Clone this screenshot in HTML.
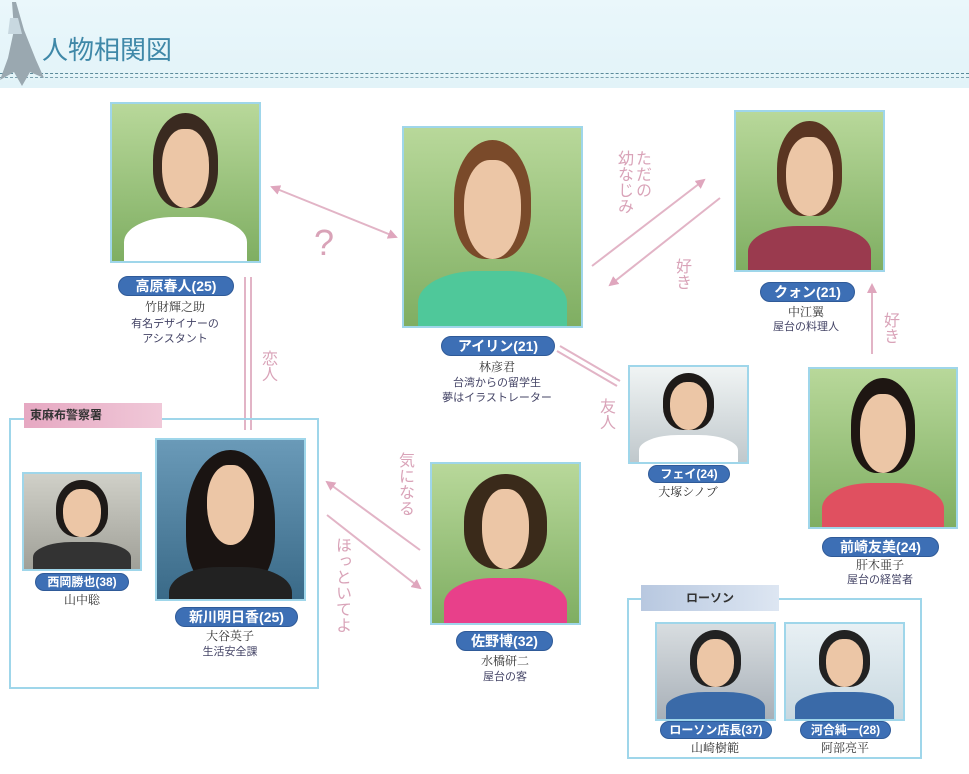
<!DOCTYPE html>
<html><head><meta charset="utf-8"><style>
body{margin:0;width:969px;height:774px;background:#fff;position:relative;overflow:hidden;font-family:"Liberation Sans","Noto Sans CJK JP",sans-serif}
.a{position:absolute}
.ph{position:absolute;overflow:hidden;border:2px solid #9fd6ea;box-sizing:border-box;background:linear-gradient(180deg,#b8d89a,#7fae62)}
.ph .hair{position:absolute;left:28%;width:44%;top:6%;height:60%;border-radius:50% 50% 40% 40%;background:#3a2a20}
.ph .face{position:absolute;left:34%;width:32%;top:16%;height:50%;border-radius:45% 45% 50% 50%;background:#ecc6a6}
.ph .body{position:absolute;left:8%;width:84%;top:72%;height:40%;border-radius:40% 40% 0 0;background:#fff}
.pill{position:absolute;background:#3d6fb5;color:#fff;border-radius:10px;text-align:center;font-weight:bold;font-size:14px;line-height:18px;border:1px solid #2f5a98}
.nm{position:absolute;text-align:center;font-family:"Liberation Serif","Noto Serif CJK SC",serif;font-size:12px;color:#333}
.ds{position:absolute;text-align:center;font-size:11px;color:#446;line-height:15px}
.vt{position:absolute;writing-mode:vertical-rl;color:#d9a3b8;font-size:16px;line-height:18px}
</style></head><body>
<div class="a" style="left:0;top:0;width:969px;height:88px;background:linear-gradient(180deg,#eaf7fb,#e2f3f8)"></div>
<div class="a" style="left:0;top:73px;width:969px;border-top:1px dashed #5a8a9a"></div>
<div class="a" style="left:0;top:77px;width:969px;border-top:1px dashed #7aa0ae"></div>
<svg class="a" style="left:0;top:0" width="45" height="90"><polygon points="12,2 16,2 24,30 36,60 44,78 30,72 22,86 14,72 0,80 8,58 14,30" fill="#9aa8b0"/><polygon points="10,18 18,18 22,34 8,34" fill="#c8d8e0"/></svg>
<div class="a" style="left:42px;top:30px;font-size:26px;color:#3f88a8">人物相関図</div>

<svg class="a" style="left:0;top:0" width="969" height="774">
<defs><marker id="ar" markerWidth="10" markerHeight="10" refX="8" refY="5" orient="auto" markerUnits="userSpaceOnUse"><path d="M0,0 L10,5 L0,10 z" fill="#dfa6bd"/></marker>
<marker id="as" markerWidth="10" markerHeight="10" refX="2" refY="5" orient="auto" markerUnits="userSpaceOnUse"><path d="M10,0 L0,5 L10,10 z" fill="#dfa6bd"/></marker></defs>
<g stroke="#e2b4c6" stroke-width="2" fill="none">
<line x1="272" y1="187" x2="396" y2="237" marker-start="url(#as)" marker-end="url(#ar)"/>
<line x1="245" y1="277" x2="245" y2="430"/><line x1="251" y1="277" x2="251" y2="430"/>
<line x1="592" y1="266" x2="704" y2="180" marker-end="url(#ar)"/>
<line x1="720" y1="198" x2="610" y2="285" marker-end="url(#ar)"/>
<line x1="872" y1="354" x2="872" y2="285" marker-end="url(#ar)"/>
<line x1="560" y1="346" x2="620" y2="381"/><line x1="557" y1="351" x2="617" y2="386"/>
<line x1="420" y1="550" x2="327" y2="482" marker-end="url(#ar)"/>
<line x1="327" y1="515" x2="420" y2="588" marker-end="url(#ar)"/>
</g>
<text x="314" y="255" font-size="36" fill="#d9a3b8" font-family="Liberation Sans">?</text>
</svg>
<div class="vt" style="left:258px;top:350px">恋人</div>
<div class="vt" style="left:614px;top:150px">ただの<br>幼なじみ</div>
<div class="vt" style="left:672px;top:258px">好き</div>
<div class="vt" style="left:880px;top:312px">好き</div>
<div class="vt" style="left:596px;top:398px">友人</div>
<div class="vt" style="left:395px;top:452px">気になる</div>
<div class="vt" style="left:332px;top:537px">ほっといてよ</div>

<!-- Takahara -->
<div class="ph" style="left:110px;top:102px;width:151px;height:161px"><div class="hair"></div><div class="face"></div><div class="body"></div></div>
<div class="pill" style="left:118px;top:276px;width:114px">高原春人(25)</div>
<div class="nm" style="left:100px;top:298px;width:150px">竹財輝之助</div>
<div class="ds" style="left:100px;top:317px;width:150px">有名デザイナーの<br>アシスタント</div>
<!-- Airin -->
<div class="ph" style="left:402px;top:126px;width:181px;height:202px"><div class="hair" style="background:#7a4a2a"></div><div class="face"></div><div class="body" style="background:#4fc89a"></div></div>
<div class="pill" style="left:441px;top:336px;width:112px">アイリン(21)</div>
<div class="nm" style="left:422px;top:358px;width:150px">林彦君</div>
<div class="ds" style="left:412px;top:376px;width:170px">台湾からの留学生<br>夢はイラストレーター</div>
<!-- Kwon -->
<div class="ph" style="left:734px;top:110px;width:151px;height:162px"><div class="hair" style="background:#5a3522"></div><div class="face"></div><div class="body" style="background:#9a3a4e"></div></div>
<div class="pill" style="left:760px;top:282px;width:93px">クォン(21)</div>
<div class="nm" style="left:731px;top:303px;width:150px">中江翼</div>
<div class="ds" style="left:731px;top:320px;width:150px">屋台の料理人</div>
<!-- Fei -->
<div class="ph" style="left:628px;top:365px;width:121px;height:99px;background:linear-gradient(180deg,#f0f4f4,#c0c8cc)"><div class="hair" style="background:#1e1a18"></div><div class="face"></div><div class="body"></div></div>
<div class="pill" style="left:648px;top:465px;width:80px;font-size:12px;line-height:16px">フェイ(24)</div>
<div class="nm" style="left:613px;top:483px;width:150px">大塚シノブ</div>
<!-- Maesaki -->
<div class="ph" style="left:808px;top:367px;width:150px;height:162px"><div class="hair" style="background:#1e1612"></div><div class="face"></div><div class="body" style="background:#e05060"></div></div>
<div class="pill" style="left:822px;top:537px;width:115px">前崎友美(24)</div>
<div class="nm" style="left:805px;top:556px;width:150px">肝木亜子</div>
<div class="ds" style="left:805px;top:573px;width:150px">屋台の経営者</div>
<!-- Sano -->
<div class="ph" style="left:430px;top:462px;width:151px;height:163px"><div class="hair" style="background:#3a2a1a;left:22%;width:56%"></div><div class="face"></div><div class="body" style="background:#e8408a"></div></div>
<div class="pill" style="left:456px;top:631px;width:95px">佐野博(32)</div>
<div class="nm" style="left:430px;top:652px;width:150px">水橋研二</div>
<div class="ds" style="left:430px;top:670px;width:150px">屋台の客</div>
<!-- Police -->
<div class="a" style="left:9px;top:418px;width:310px;height:271px;border:2px solid #9fd6ea;box-sizing:border-box"></div>
<div class="a" style="left:24px;top:403px;width:138px;height:25px;background:linear-gradient(90deg,#e6a8c2,#f0c8d8);font-size:12px;font-weight:bold;color:#333;line-height:25px;padding-left:6px;box-sizing:border-box">東麻布警察署</div>
<div class="ph" style="left:22px;top:472px;width:120px;height:99px;background:linear-gradient(180deg,#d0d0c8,#a0a098)"><div class="hair" style="background:#1e1a18"></div><div class="face"></div><div class="body" style="background:#333"></div></div>
<div class="pill" style="left:35px;top:573px;width:92px;font-size:12px;line-height:16px">西岡勝也(38)</div>
<div class="nm" style="left:7px;top:591px;width:150px">山中聡</div>
<div class="ph" style="left:155px;top:438px;width:151px;height:163px;background:linear-gradient(180deg,#6a9ab8,#3a6a88)"><div class="hair" style="background:#1a1412;left:20%;width:60%;height:90%"></div><div class="face"></div><div class="body" style="background:#222;top:80%"></div></div>
<div class="pill" style="left:175px;top:607px;width:121px">新川明日香(25)</div>
<div class="nm" style="left:155px;top:627px;width:150px">大谷英子</div>
<div class="ds" style="left:155px;top:645px;width:150px">生活安全課</div>
<!-- Lawson -->
<div class="a" style="left:627px;top:598px;width:295px;height:161px;border:2px solid #9fd6ea;box-sizing:border-box"></div>
<div class="a" style="left:641px;top:585px;width:138px;height:26px;background:linear-gradient(90deg,#b8c8e0,#dde6f2);font-size:12px;font-weight:bold;color:#333;line-height:26px;text-align:center">ローソン</div>
<div class="ph" style="left:655px;top:622px;width:121px;height:99px;background:linear-gradient(180deg,#d8dde0,#a8b0b8)"><div class="hair" style="background:#222"></div><div class="face"></div><div class="body" style="background:#3a6aa8"></div></div>
<div class="ph" style="left:784px;top:622px;width:121px;height:99px;background:linear-gradient(180deg,#e8f0f4,#c8d8e0)"><div class="hair" style="background:#222"></div><div class="face"></div><div class="body" style="background:#3a6aa8"></div></div>
<div class="pill" style="left:660px;top:721px;width:110px;font-size:12px;line-height:16px">ローソン店長(37)</div>
<div class="pill" style="left:800px;top:721px;width:89px;font-size:12px;line-height:16px">河合純一(28)</div>
<div class="nm" style="left:640px;top:739px;width:150px">山崎樹範</div>
<div class="nm" style="left:770px;top:739px;width:150px">阿部亮平</div>
</body></html>
